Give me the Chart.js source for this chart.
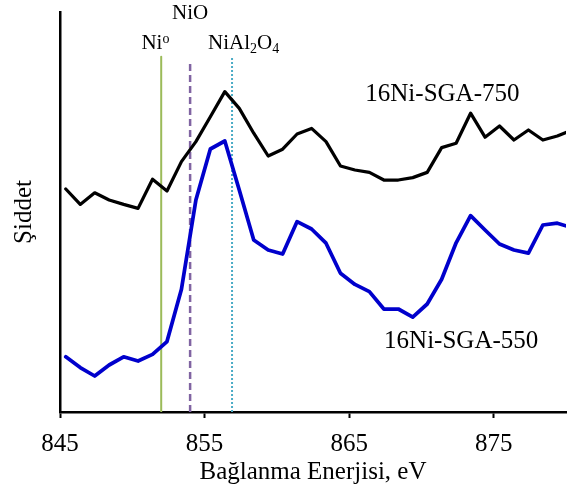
<!DOCTYPE html>
<html>
<head>
<meta charset="utf-8">
<script src="https://cdn.jsdelivr.net/npm/chart.js"></script>
<style>
	body { margin: 0; background: #fff; }
</style>
</head>
<body>
<canvas id="xpsChart" width="573" height="490"></canvas>
<script>
// Binding energy (eV) of each measured point
const energies = [
	845.4, 846.4, 847.4, 848.4, 849.4, 850.4, 851.4, 852.4, 853.4, 854.4,
	855.4, 856.4, 857.4, 858.4, 859.4, 860.4, 861.4, 862.4, 863.4, 864.4,
	865.4, 866.4, 867.4, 868.4, 869.4, 870.4, 871.4, 872.4, 873.4, 874.4,
	875.4, 876.4, 877.4, 878.4, 879.4, 880.4,
];

// Intensity (arbitrary units)
const sga750 = [
	55.75, 51.9, 54.8, 53, 51.9, 50.9, 58.2, 55.25, 62.6, 67.6,
	73.8, 80.1, 75.9, 69.7, 64, 65.7, 69.5, 70.9, 67.6, 61.5,
	60.5, 59.9, 58, 58, 58.6, 59.9, 66.1, 67.2, 74.7, 68.7,
	71.5, 68, 70.5, 68, 69, 70.5,
];
const sga550 = [
	13.8, 11.1, 9, 11.75, 13.8, 12.75, 14.4, 17.6, 30.7, 53,
	65.75, 67.75, 55.5, 43, 40.5, 39.5, 47.6, 45.75, 42.2, 34.7,
	31.9, 30.1, 25.75, 25.75, 23.7, 27, 33.2, 42.3, 49.1, 45.5,
	42, 40.5, 39.7, 46.75, 47.2, 46.1,
];

// Reference peak positions: Ni0, NiO, NiAl2O4
const refEnergies = [852.0, 854.0, 856.9];
const refTops = [88.8, 88.0, 88.75];

const tickValues = [845, 855, 865, 875];

const serif = "'Liberation Serif', 'Times New Roman', serif";

function points(values) {
	return energies.map((e, i) => ({ x: e, y: values[i] }));
}

function refLine(i) {
	return [{ x: refEnergies[i], y: 0 }, { x: refEnergies[i], y: refTops[i] }];
}

// text labels drawn on the chart (parts: [text, shift] -1 = sup, 1 = sub)
const notes = [
	{ parts: [["Ni", 0], ["o", -1]], x: 851.6, y: 90.7, size: 21 },
	{ parts: [["NiO", 0]], x: 854.0, y: 98.25, size: 21 },
	{ parts: [["NiAl", 0], ["2", 1], ["O", 0], ["4", 1]], x: 857.7, y: 90.7, size: 21 },
	{ parts: [["16Ni-SGA-750", 0]], x: 871.45, y: 77.8, size: 25 },
	{ parts: [["16Ni-SGA-550", 0]], x: 872.75, y: 15.9, size: 25 },
];

const notesPlugin = {
	id: "notes",
	afterDatasetsDraw(chart) {
		const { ctx, scales } = chart;
		ctx.save();
		ctx.fillStyle = "#000";
		ctx.textBaseline = "alphabetic";
		ctx.textAlign = "left";
		notes.forEach((n) => {
			const small = Math.round(n.size * 0.68);
			let w = 0;
			n.parts.forEach((p) => {
				ctx.font = (p[1] ? small : n.size) + "px " + serif;
				w += ctx.measureText(p[0]).width;
			});
			let px = scales.x.getPixelForValue(n.x) - w / 2;
			const py = scales.y.getPixelForValue(n.y);
			n.parts.forEach((p) => {
				ctx.font = (p[1] ? small : n.size) + "px " + serif;
				const dy = p[1] === -1 ? -6.5 : p[1] === 1 ? 4 : 0;
				ctx.fillText(p[0], px, py + dy);
				px += ctx.measureText(p[0]).width;
			});
		});
		ctx.restore();
	},
};

const ctx = document.getElementById("xpsChart").getContext("2d");
const chart = new Chart(ctx, {
	type: "line",
	data: {
		datasets: [
			{
				label: "16Ni-SGA-750",
				data: points(sga750),
				borderColor: "#000000",
				borderWidth: 3.25,
			},
			{
				label: "16Ni-SGA-550",
				data: points(sga550),
				borderColor: "#0000CC",
				borderWidth: 3.75,
			},
			{
				label: "Ni0",
				data: refLine(0),
				borderColor: "#9BBB59",
				borderWidth: 2,
			},
			{
				label: "NiO",
				data: refLine(1),
				borderColor: "#8064A2",
				borderWidth: 2.5,
				borderDash: [7, 4],
				borderCapStyle: "butt",
			},
			{
				label: "NiAl2O4",
				data: refLine(2),
				borderColor: "#4BACC6",
				borderWidth: 2,
				borderDash: [2, 2],
				borderCapStyle: "butt",
			},
		],
	},
	options: {
		responsive: false,
		animation: false,
		layout: {
			padding: { top: 12, right: 7, bottom: 0, left: 0 },
		},
		elements: {
			point: { radius: 0 },
			line: { tension: 0, borderJoinStyle: "round", borderCapStyle: "round" },
		},
		plugins: {
			legend: { display: false },
			tooltip: { enabled: false },
		},
		scales: {
			x: {
				type: "linear",
				min: 845,
				max: 880,
				afterBuildTicks: (scale) => {
					scale.ticks = tickValues.map((v) => ({ value: v }));
				},
				afterFit: (scale) => {
					scale.height = 78;
				},
				grid: {
					drawOnChartArea: false,
					drawTicks: true,
					tickLength: 6,
					tickWidth: 2,
					tickColor: "#000",
				},
				border: { color: "#000", width: 2.5 },
				ticks: {
					color: "#000",
					padding: 11,
					maxRotation: 0,
					font: { family: serif, size: 25 },
				},
				title: {
					display: true,
					text: "Bağlanma Enerjisi, eV",
					color: "#000",
					padding: { top: 0, bottom: 3 },
					font: { family: serif, size: 25 },
				},
			},
			y: {
				min: 0,
				max: 100,
				afterFit: (scale) => {
					scale.width = 60;
				},
				grid: { display: false },
				border: { color: "#000", width: 2.5 },
				ticks: { display: false },
				title: {
					display: true,
					text: "Şiddet",
					color: "#000",
					padding: { top: 9, bottom: 0 },
					font: { family: serif, size: 25 },
				},
			},
		},
	},
	plugins: [notesPlugin],
});
</script>
</body>
</html>
